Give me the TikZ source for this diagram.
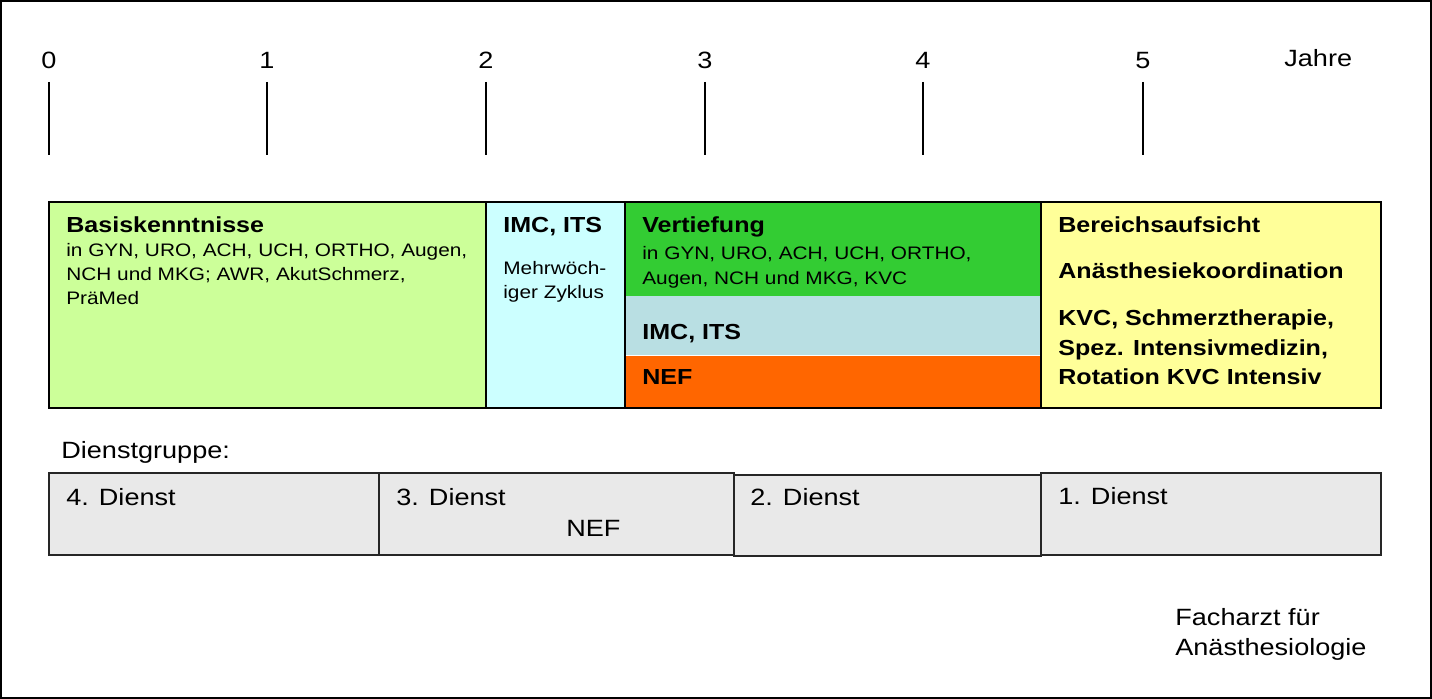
\documentclass[tikz,border=0pt]{standalone}
\usepackage{fontspec}
\setmainfont{Liberation Sans}[FakeStretch=1.15]
\usetikzlibrary{fit}
\definecolor{cBasis}{HTML}{CCFF99}
\definecolor{cImc}{HTML}{CCFFFF}
\definecolor{cVert}{HTML}{33CC33}
\definecolor{cIts}{HTML}{B9DFE3}
\definecolor{cNef}{HTML}{FF6600}
\definecolor{cYel}{HTML}{FFFF99}
\definecolor{cGray}{HTML}{E9E9E9}
\begin{document}
\begin{tikzpicture}[x=0.02cm,y=-0.02cm,
  box/.style={draw=black, line width=0.9pt, inner sep=0pt},
  gbox/.style={draw=black!85, line width=0.9pt, inner sep=0pt, fill=cGray},
  small/.style={anchor=base west, inner sep=0pt, font=\fontsize{10.3}{12}\selectfont},
  ttl/.style={anchor=base west, inner sep=0pt, font=\fontsize{12.4}{14}\selectfont\bfseries},
  big/.style={anchor=base west, inner sep=0pt, font=\fontsize{13.4}{15}\selectfont},
  num/.style={anchor=base, inner sep=0pt, font=\fontsize{13.4}{15}\selectfont},
  tick/.style={line width=0.6pt}]
\useasboundingbox (0,0) rectangle (1432,699);
\draw[line width=1.2pt] (1,1) rectangle (1431,698);

% time axis
\foreach \i/\x in {0/49,1/267,2/486,3/705,4/923,5/1143}{
  \node[num] (n\i) at (\x,69) {\i};
  \coordinate (ta\i) at (\x,82);
  \coordinate (tb\i) at (\x,155);
  \draw[tick] (ta\i) -- (tb\i);
}
\node[big] (jahre) at (1284,67) {Jahre};

% top boxes
\node[box, fill=cBasis, fit={(49,202)(486,408)}] (basis) {};
\node[box, fill=cImc, fit={(486,202)(625,408)}] (imc) {};
\node[inner sep=0pt, fill=cVert, fit={(625,202)(1041,296)}] (vert) {};
\node[inner sep=0pt, fill=cIts, fit={(625,296)(1041,355)}] (its) {};
\node[inner sep=0pt, fill=cNef, fit={(625,355)(1041,408)}] (nef) {};
\draw[white, line width=0.8pt] (its.south west) -- (its.south east);
\node[box, fit={(625,202)(1041,408)}] (mid) {};
\node[box, fill=cYel, fit={(1041,202)(1381,408)}] (fach) {};

% texts
\node[ttl] (t1) at (66,233) {Basiskenntnisse};
\node[small] (t1a) at (66,256) {in GYN, URO, ACH, UCH, ORTHO, Augen,};
\node[small] (t1b) at (66,280) {NCH und MKG; AWR, AkutSchmerz,};
\node[small] (t1c) at (66,304) {PräMed};

\node[ttl] (t2) at (503,233) {IMC, ITS};
\node[small] (t2a) at (503,274) {Mehrwöch-};
\node[small] (t2b) at (503,298) {iger Zyklus};

\node[ttl] (t3) at (642,233) {Vertiefung};
\node[small] (t3a) at (642,259) {in GYN, URO, ACH, UCH, ORTHO,};
\node[small] (t3b) at (642,284) {Augen, NCH und MKG, KVC};
\node[ttl] (t4) at (642,339) {IMC, ITS};
\node[ttl] (t5) at (642,384) {NEF};

\node[ttl] (t6) at (1058,233) {Bereichsaufsicht};
\node[ttl] (t7) at (1058,278) {Anästhesiekoordination};
\node[ttl] (t8) at (1058,325) {KVC, Schmerztherapie,};
\node[ttl] (t9) at (1058,355) {Spez. Intensivmedizin,};
\node[ttl] (t10) at (1058,384) {Rotation KVC Intensiv};

% duty groups
\node[big] (dg) at (61,458) {Dienstgruppe:};
\node[gbox, fit={(49,473)(379,555)}] (d4) {};
\node[gbox, fit={(379,473)(734,555)}] (d3) {};
\node[gbox, fit={(734,475)(1041,556)}] (d2) {};
\node[gbox, fit={(1041,473)(1381,555)}] (d1) {};
\node[big] (d4t) at (66,505) {4. Dienst};
\node[big] (d3t) at (396,505) {3. Dienst};
\node[big] (d3n) at (566,536) {NEF};
\node[big] (d2t) at (750,505) {2. Dienst};
\node[big] (d1t) at (1058,504) {1. Dienst};

\node[big] (fa1) at (1175,625) {Facharzt für};
\node[big] (fa2) at (1175,655) {Anästhesiologie};
\end{tikzpicture}
\end{document}
